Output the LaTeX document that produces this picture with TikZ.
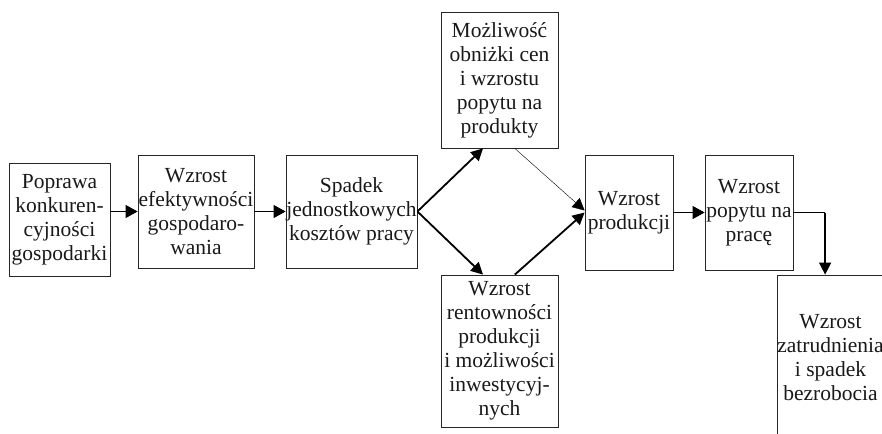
\documentclass[tikz,border=0pt]{standalone}
\usepackage{fontspec}
\setmainfont{Liberation Serif}
\usetikzlibrary{arrows.meta,calc}
\tikzset{
  box/.style={draw=black!85, line width=0.8pt, align=center, inner sep=0pt,
    font=\fontsize{21.5}{24}\selectfont, text=black!90},
  arr/.style={line width=0.9pt, -{Triangle[length=12pt,width=13pt]}},
  thickarr/.style={line width=1.8pt, -{Triangle[length=12pt,width=12pt]}},
  thinarr/.style={line width=0.4pt, -{Triangle[length=12pt,width=12pt]}},
}
\begin{document}
\begin{tikzpicture}[x=1pt,y=-1pt]
\clip (0,0) rectangle (882,433);
\fill[white] (0,0) rectangle (882,433);
\node[box, minimum width=101pt, minimum height=113pt] (a) at (59.5,219.5)
  {Poprawa\\konkuren-\\cyjności\\gospodarki};
\node[box, minimum width=116pt, minimum height=113pt] (b) at (196,211.5)
  {Wzrost\\efektywności\\gospodaro-\\wania};
\node[box, minimum width=131pt, minimum height=113pt] (c) at (351.5,211.5)
  {Spadek\\jednostkowych\\kosztów pracy};
\node[box, minimum width=117pt, minimum height=136pt] (t) at (499.5,80)
  {Możliwość\\obniżki cen\\i wzrostu\\popytu na\\produkty};
\node[box, minimum width=117pt, minimum height=152pt] (u) at (499.5,351)
  {Wzrost\\rentowności\\produkcji\\i możliwości\\inwestycyj-\\nych};
\node[box, minimum width=88pt, minimum height=115pt] (pr) at (629,212.5)
  {Wzrost\\produkcji};
\node[box, minimum width=88pt, minimum height=115pt] (p) at (749,212.5)
  {Wzrost\\popytu na\\pracę};
\node[box, minimum width=107pt, minimum height=166pt] (z) at (830.5,358)
  {Wzrost\\zatrudnienia\\i spadek\\bezrobocia};
\coordinate (zt) at ($(z.north west)!0.45!(z.north east)$);
\coordinate (bend) at (p.east -| zt);

\draw[arr] (a.east |- b.west) -- (b.west);
\draw[arr] (b.east) -- (c.west);
\draw[thickarr] (c.east) -- ($(t.south west)!0.36!(t.south east)$);
\draw[thickarr] (c.east) -- ($(u.north west)!0.36!(u.north east)$);
\draw[thinarr] ($(t.south west)!0.63!(t.south east)$) -- ($(pr.west)+(0,-2)$);
\draw[thickarr] ($(u.north west)!0.63!(u.north east)$) -- (pr.west);
\draw[arr] (pr.east) -- (p.west);
\draw[line width=0.9pt] (p.east) -- (bend);
\draw[thickarr, line width=1.6pt] (bend) -- (zt);
\end{tikzpicture}
\end{document}
